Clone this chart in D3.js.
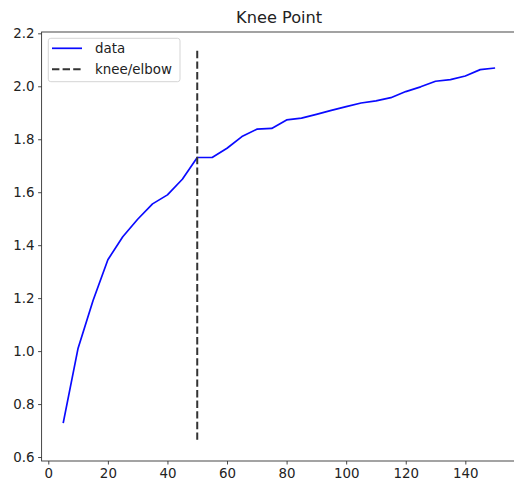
<!DOCTYPE html>
<html>
<head>
<meta charset="utf-8">
<script src="https://cdn.jsdelivr.net/npm/d3@7"></script>
<style>
  html, body { margin: 0; padding: 0; background: #fff; }
  svg { display: block; font-family: "DejaVu Sans", sans-serif; }
</style>
</head>
<body>
<svg id="chart" width="514" height="481"></svg>
<script>
// ---- data ----
const xValues = [5, 10, 15, 20, 25, 30, 35, 40, 45, 50, 55, 60, 65, 70, 75,
                 80, 85, 90, 95, 100, 105, 110, 115, 120, 125, 130, 135, 140, 145, 150];
const yValues = [0.728, 1.011, 1.19, 1.345, 1.432, 1.498, 1.556, 1.59, 1.649, 1.731,
                 1.731, 1.766, 1.81, 1.838, 1.841, 1.873, 1.880, 1.894, 1.909, 1.923,
                 1.937, 1.945, 1.957, 1.980, 1.998, 2.019, 2.025, 2.039, 2.063, 2.069];
const kneeX = 50;
const kneeRange = [0.665, 2.137];
const xTicks = [0, 20, 40, 60, 80, 100, 120, 140];
const yTicks = [0.6, 0.8, 1.0, 1.2, 1.4, 1.6, 1.8, 2.0, 2.2];
const titleText = "Knee Point";
const legendLabels = ["data", "knee/elbow"];

// ---- layout ----
const svg = d3.select("#chart");
const mLeft = 41.6, mRight = 516.7, mTop = 32, mBottom = 461;
const x = d3.scaleLinear().domain([-2.25, 157.25]).range([mLeft, mRight]);
const y = d3.scaleLinear().domain([0.585, 2.205]).range([mBottom, mTop]);
const axisColor = "#333";
const fontSize = "13.4px";

// data line
const line = d3.line().x((d, i) => x(xValues[i])).y(d => y(d));
svg.append("path")
  .datum(yValues)
  .attr("d", line)
  .attr("fill", "none")
  .attr("stroke", "#0a0aff")
  .attr("stroke-width", 1.7)
  .attr("stroke-linejoin", "round")
  .attr("stroke-linecap", "butt");

// knee line
svg.append("line")
  .attr("x1", x(kneeX)).attr("x2", x(kneeX))
  .attr("y1", y(kneeRange[0])).attr("y2", y(kneeRange[1]))
  .attr("stroke", "#333")
  .attr("stroke-width", 2)
  .attr("stroke-dasharray", "7.4,3.2");

// axes
const xAxis = d3.axisBottom(x).tickValues(xTicks).tickSize(3.5).tickPadding(3.5).tickFormat(d3.format("d"));
const yAxis = d3.axisLeft(y).tickValues(yTicks).tickSize(3.5).tickPadding(3.5).tickFormat(d3.format(".1f"));

const gx = svg.append("g").attr("transform", `translate(0,${mBottom})`).call(xAxis);
const gy = svg.append("g").attr("transform", `translate(${mLeft},0)`).call(yAxis);
[gx, gy].forEach(g => {
  g.select(".domain").remove();
  g.selectAll(".tick line").attr("stroke", axisColor).attr("stroke-width", 0.9);
  g.selectAll(".tick text").attr("fill", "#222").style("font-size", fontSize)
    .style("font-family", "'DejaVu Sans', sans-serif");
});

// spines
svg.append("rect")
  .attr("x", mLeft).attr("y", mTop)
  .attr("width", mRight - mLeft).attr("height", mBottom - mTop)
  .attr("fill", "none").attr("stroke", axisColor).attr("stroke-width", 0.9);

// title
svg.append("text")
  .attr("x", (mLeft + mRight) / 2).attr("y", 23)
  .attr("text-anchor", "middle")
  .attr("fill", "#222")
  .style("font-size", "16.2px")
  .text(titleText);

// legend
const lg = svg.append("g");
lg.append("rect")
  .attr("x", 48.3).attr("y", 38.3).attr("width", 131.7).attr("height", 43.4)
  .attr("rx", 2.5).attr("fill", "#fff").attr("fill-opacity", 0.8)
  .attr("stroke", "#d0d0d0").attr("stroke-width", 0.9);
const legendRows = [
  { label: legendLabels[0], color: "#0a0aff", dash: null, w: 1.7, yy: 48.3 },
  { label: legendLabels[1], color: "#333", dash: "7.4,3.2", w: 2, yy: 69.3 }
];
legendRows.forEach(r => {
  const l = lg.append("line")
    .attr("x1", 52).attr("x2", 82).attr("y1", r.yy).attr("y2", r.yy)
    .attr("stroke", r.color).attr("stroke-width", r.w);
  if (r.dash) l.attr("stroke-dasharray", r.dash);
  lg.append("text")
    .attr("x", 95).attr("y", r.yy).attr("dy", "0.35em")
    .attr("fill", "#222").style("font-size", fontSize)
    .text(r.label);
});
</script>
</body>
</html>
